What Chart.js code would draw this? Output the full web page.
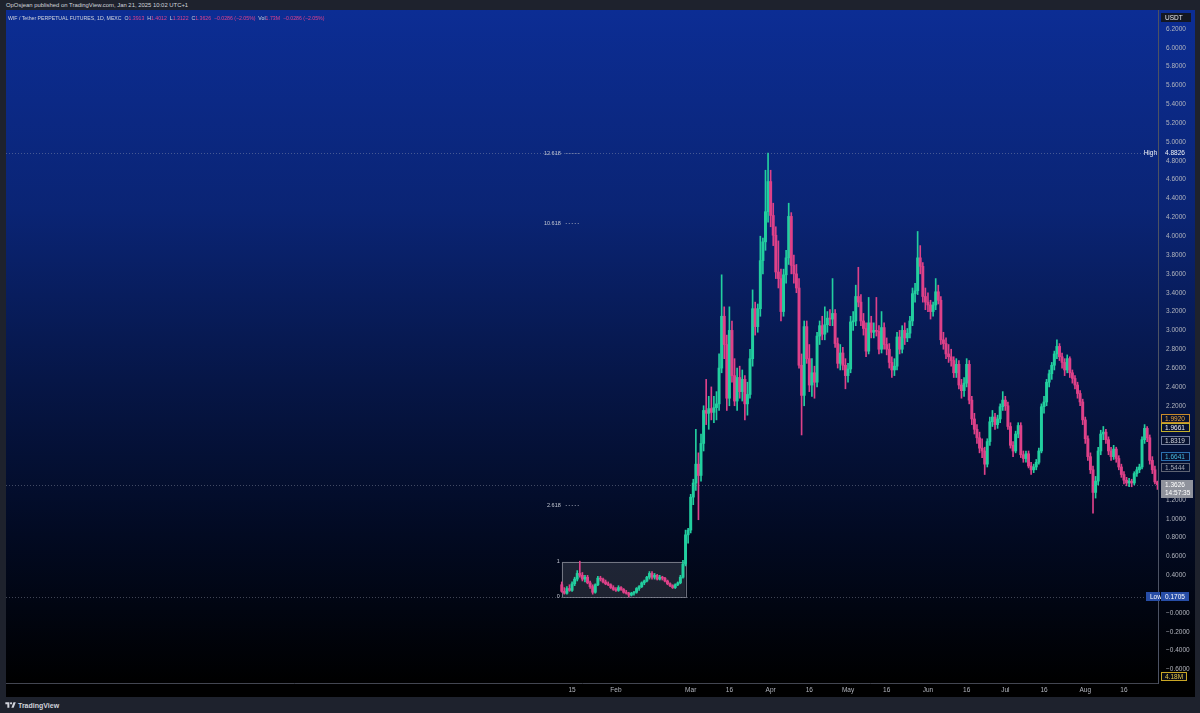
<!DOCTYPE html>
<html lang="en">
<head>
<meta charset="utf-8">
<title>WIF / Tether Perpetual Futures, 1D, MEXC</title>
<script src="https://cdn.jsdelivr.net/npm/chart.js@4.4.1/dist/chart.umd.min.js"></script>
<style>
  html, body { margin: 0; padding: 0; }
  body {
    width: 1200px; height: 713px; position: relative; overflow: hidden;
    background: #1e222d; font-family: "Liberation Sans", Arial, sans-serif;
  }
  #byline {
    position: absolute; left: 6px; top: 1px; font-size: 5.9px; line-height: 8px;
    color: #d1d4dc; white-space: nowrap;
  }
  #frame { position: absolute; left: 6px; top: 10px; width: 1189px; height: 687px; }
  #legend {
    position: absolute; left: 8px; top: 14px; font-size: 5.2px; line-height: 8px;
    color: #d1d4dc; white-space: nowrap; z-index: 2;
  }
  #legend .v { color: #e0438c; }
  #footer {
    position: absolute; left: 5px; top: 700px; height: 10px; display: flex;
    align-items: center; gap: 2px; color: #d1d4dc; font-size: 7px; font-weight: bold;
  }
</style>
</head>
<body>
<div id="byline">OpOsjean published on TradingView.com, Jan 21, 2025 10:02 UTC+1</div>
<div id="frame"><canvas id="priceChart"></canvas></div>
<div id="legend">WIF / Tether PERPETUAL FUTURES, 1D, MEXC &nbsp;O<span class="v">1.3913</span> &nbsp;H<span class="v">1.4012</span> &nbsp;L<span class="v">1.3122</span> &nbsp;C<span class="v">1.3626</span> &nbsp;<span class="v">&minus;0.0286 (&minus;2.05%)</span> &nbsp;Vol<span class="v">1.73M</span> &nbsp;<span class="v">&minus;0.0286 (&minus;2.05%)</span></div>
<div id="footer">
  <svg width="11" height="8" viewBox="0 0 36 28"><path d="M14 24H7V11H0V4h14v20zM29 24h-8l7.5-20h8L29 24z" fill="#d1d4dc"/><circle cx="20" cy="8" r="4" fill="#d1d4dc"/></svg>
  <span>TradingView</span>
</div>

<script>
// Daily candles, 2024. firstDay is the day-of-year of the first candle (Jan 11).
const firstDay = 10;

const opens = [
  .30, .23, .21, .26, .24, .31, .36, .42, .40, .36, .38, .32, .28, .22, .30, .37,
  .36, .33, .31, .30, .27, .25, .24, .27, .25, .22, .21, .19, .21, .22, .26, .28,
  .32, .34, .38, .42, .38, .40, .36, .38, .37, .34, .31, .29, .27, .30, .32, .38,
  .52, .83, .88, 1.23, 1.38, 1.58, 1.46, 1.80, 2.15, 2.12, 2.17, 2.13, 2.18, 2.22, 2.60, 3.15,
  2.85, 2.28, 3.00, 2.52, 2.25, 2.50, 2.35, 2.48, 2.22, 2.32, 2.70, 3.23, 3.04, 3.23, 3.74, 3.94,
  4.26, 4.58, 4.22, 4.01, 3.62, 3.55, 3.20, 3.59, 3.77, 4.21, 3.69, 3.60, 3.45, 2.63, 2.31, 3.04,
  2.70, 2.42, 2.55, 2.45, 2.94, 3.05, 2.96, 3.06, 3.13, 3.12, 3.18, 2.86, 2.65, 2.76, 2.63, 2.52,
  2.59, 3.09, 3.10, 3.36, 3.30, 3.10, 3.02, 2.78, 3.08, 2.98, 3.00, 2.99, 2.80, 3.03, 2.85, 2.80,
  2.66, 2.58, 2.62, 2.93, 2.80, 3.00, 2.92, 2.97, 3.10, 3.39, 3.42, 3.77, 3.68, 3.36, 3.30, 3.27,
  3.20, 3.27, 3.41, 3.32, 2.90, 2.86, 2.75, 2.72, 2.68, 2.55, 2.64, 2.42, 2.36, 2.44, 2.64, 2.26,
  2.06, 1.95, 1.86, 1.75, 1.72, 1.58, 1.82, 2.03, 2.08, 2.00, 2.06, 2.19, 2.26, 2.20, 1.98, 1.78,
  1.72, 1.90, 1.99, 1.68, 1.64, 1.69, 1.56, 1.52, 1.55, 1.60, 1.72, 2.19, 2.24, 2.45, 2.54, 2.63,
  2.75, 2.83, 2.72, 2.66, 2.58, 2.70, 2.55, 2.49, 2.42, 2.33, 2.24, 2.05, 1.85, 1.66, 1.52, 1.28,
  1.40, 1.72, 1.90, 1.92, 1.84, 1.72, 1.66, 1.74, 1.64, 1.55, 1.47, 1.41, 1.38, 1.40, 1.38, 1.48,
  1.52, 1.55, 1.84, 1.96, 1.86, 1.62, 1.52, 1.3913
];
const highs = [
  .33, .27, .28, .30, .33, .38, .45, .55, .43, .40, .40, .34, .30, .31, .39, .39,
  .37, .35, .33, .31, .29, .27, .29, .28, .26, .24, .22, .22, .23, .27, .29, .33,
  .35, .39, .44, .44, .42, .41, .40, .39, .38, .35, .32, .30, .31, .33, .40, .56,
  .88, .90, 1.26, 1.42, 1.95, 1.70, 1.90, 2.20, 2.48, 2.30, 2.40, 2.30, 2.35, 2.75, 3.59, 3.25,
  2.95, 3.25, 3.10, 2.70, 2.60, 2.62, 2.58, 2.52, 2.45, 2.80, 3.43, 3.30, 3.28, 4.00, 3.98, 4.70,
  4.8826, 4.70, 4.35, 4.10, 3.95, 3.65, 3.65, 3.85, 4.35, 4.25, 3.80, 3.70, 3.55, 2.75, 3.10, 3.10,
  2.85, 2.70, 2.62, 2.98, 3.10, 3.15, 3.25, 3.20, 3.22, 3.55, 3.22, 2.92, 2.85, 2.82, 2.70, 2.65,
  3.15, 3.20, 3.48, 3.67, 3.38, 3.18, 3.08, 3.35, 3.15, 3.08, 3.35, 3.05, 3.20, 3.08, 2.92, 2.86,
  2.72, 2.70, 2.98, 3.00, 3.05, 3.08, 3.02, 3.15, 3.45, 3.50, 4.05, 3.90, 3.72, 3.45, 3.40, 3.32,
  3.30, 3.55, 3.48, 3.36, 2.98, 2.92, 2.85, 2.80, 2.72, 2.70, 2.68, 2.48, 2.50, 2.70, 2.68, 2.30,
  2.12, 2.00, 1.92, 1.85, 1.76, 1.85, 2.08, 2.15, 2.12, 2.10, 2.22, 2.35, 2.30, 2.24, 2.02, 1.82,
  1.93, 2.02, 2.02, 1.72, 1.72, 1.72, 1.60, 1.58, 1.63, 1.75, 2.22, 2.30, 2.48, 2.58, 2.66, 2.78,
  2.90, 2.86, 2.76, 2.70, 2.74, 2.72, 2.58, 2.52, 2.45, 2.36, 2.27, 2.08, 1.88, 1.70, 1.56, 1.45,
  1.76, 1.94, 1.98, 1.95, 1.87, 1.76, 1.78, 1.76, 1.67, 1.58, 1.50, 1.44, 1.43, 1.42, 1.50, 1.55,
  1.58, 1.87, 2.00, 1.98, 1.89, 1.66, 1.56, 1.4012
];
const lows = [
  .22, .20, .20, .23, .23, .29, .34, .38, .34, .33, .31, .26, .20, .21, .29, .34,
  .32, .30, .29, .26, .24, .23, .23, .24, .21, .20, .1705, .18, .19, .21, .24, .27,
  .30, .33, .36, .36, .36, .35, .35, .35, .33, .30, .28, .26, .26, .29, .31, .37,
  .50, .74, .85, 1.15, 1.30, .99, 1.40, 1.72, 2.00, 1.95, 2.05, 2.02, 2.05, 2.15, 2.55, 2.70,
  2.15, 2.20, 2.45, 2.20, 2.15, 2.28, 2.25, 2.05, 2.10, 2.28, 2.62, 2.95, 2.98, 3.15, 3.60, 3.85,
  4.15, 4.10, 3.90, 3.55, 3.45, 3.10, 3.15, 3.50, 3.70, 3.60, 3.50, 3.40, 2.60, 1.89, 2.20, 2.65,
  2.35, 2.30, 2.28, 2.40, 2.85, 2.90, 2.90, 2.98, 3.05, 3.05, 2.82, 2.60, 2.58, 2.58, 2.38, 2.45,
  2.55, 3.00, 3.05, 3.25, 3.05, 2.95, 2.72, 2.75, 2.92, 2.92, 2.94, 2.75, 2.76, 2.80, 2.74, 2.60,
  2.50, 2.52, 2.58, 2.75, 2.76, 2.85, 2.88, 2.92, 3.05, 3.30, 3.38, 3.60, 3.30, 3.22, 3.20, 3.12,
  3.15, 3.22, 3.28, 2.85, 2.80, 2.70, 2.66, 2.62, 2.50, 2.50, 2.38, 2.28, 2.30, 2.40, 2.22, 2.00,
  1.90, 1.80, 1.70, 1.65, 1.47, 1.55, 1.78, 1.98, 1.95, 1.96, 2.02, 2.15, 2.15, 1.95, 1.75, 1.66,
  1.70, 1.86, 1.65, 1.60, 1.60, 1.54, 1.47, 1.49, 1.52, 1.58, 1.70, 2.12, 2.20, 2.40, 2.48, 2.58,
  2.70, 2.68, 2.60, 2.52, 2.55, 2.50, 2.44, 2.38, 2.28, 2.20, 2.00, 1.80, 1.62, 1.48, 1.06, 1.22,
  1.36, 1.68, 1.84, 1.80, 1.68, 1.62, 1.63, 1.60, 1.52, 1.44, 1.37, 1.35, 1.34, 1.34, 1.36, 1.45,
  1.49, 1.53, 1.80, 1.82, 1.58, 1.48, 1.37, 1.3122
];
const closes = [
  .23, .21, .26, .24, .31, .36, .42, .40, .36, .38, .32, .28, .22, .30, .37, .36,
  .33, .31, .30, .27, .25, .24, .27, .25, .22, .21, .19, .21, .22, .26, .28, .32,
  .34, .38, .42, .38, .40, .36, .38, .37, .34, .31, .29, .27, .30, .32, .38, .52,
  .83, .88, 1.23, 1.38, 1.58, 1.46, 1.80, 2.15, 2.12, 2.17, 2.13, 2.18, 2.22, 2.60, 3.15, 2.85,
  2.28, 3.00, 2.52, 2.25, 2.50, 2.35, 2.48, 2.22, 2.32, 2.70, 3.23, 3.04, 3.23, 3.74, 3.94, 4.26,
  4.58, 4.22, 4.01, 3.62, 3.55, 3.20, 3.59, 3.77, 4.21, 3.69, 3.60, 3.45, 2.63, 2.31, 3.04, 2.70,
  2.42, 2.55, 2.45, 2.94, 3.05, 2.96, 3.06, 3.13, 3.12, 3.18, 2.86, 2.65, 2.76, 2.63, 2.52, 2.59,
  3.09, 3.10, 3.36, 3.30, 3.10, 3.02, 2.78, 3.08, 2.98, 3.00, 2.99, 2.80, 3.03, 2.85, 2.80, 2.66,
  2.58, 2.62, 2.93, 2.80, 3.00, 2.92, 2.97, 3.10, 3.39, 3.42, 3.77, 3.68, 3.36, 3.30, 3.27, 3.20,
  3.27, 3.41, 3.32, 2.90, 2.86, 2.75, 2.72, 2.68, 2.55, 2.64, 2.42, 2.36, 2.44, 2.64, 2.26, 2.06,
  1.95, 1.86, 1.75, 1.72, 1.58, 1.82, 2.03, 2.08, 2.00, 2.06, 2.19, 2.26, 2.20, 1.98, 1.78, 1.72,
  1.90, 1.99, 1.68, 1.64, 1.69, 1.56, 1.52, 1.55, 1.60, 1.72, 2.19, 2.24, 2.45, 2.54, 2.63, 2.75,
  2.83, 2.72, 2.66, 2.58, 2.70, 2.55, 2.49, 2.42, 2.33, 2.24, 2.05, 1.85, 1.66, 1.52, 1.28, 1.40,
  1.72, 1.90, 1.92, 1.84, 1.72, 1.66, 1.74, 1.64, 1.55, 1.47, 1.41, 1.38, 1.40, 1.38, 1.48, 1.52,
  1.55, 1.84, 1.96, 1.86, 1.62, 1.52, 1.3913, 1.3626
];

// Time axis: day-of-year positions and their labels
const tickDays = [14, 31, 60, 75, 91, 106, 121, 136, 152, 167, 182, 197, 213, 228];
const tickLabels = ['15', 'Feb', 'Mar', '16', 'Apr', '16', 'May', '16', 'Jun', '16', 'Jul', '16', 'Aug', '16'];

// Fibonacci extension drawn on the chart
const fibLow = 0.1705;
const fibHigh = 4.8826;
const fibStartDay = 10;
const fibEndDay = 58;
const fibExtLevels = [2.618, 10.618, 12.618];

// Indicator values shown on the price axis, and the volume tag
const markerValues = [1.9920, 1.9661, 1.8319, 1.6641, 1.5444];
const volumeTag = '4.18M';
const countdown = '14:57:35';

const FONT = '"Liberation Sans", Arial, sans-serif';
const UP = '#22cf9f';
const DOWN = '#de4189';

const days = closes.map((_, i) => firstDay + i);
const candleColors = closes.map((c, i) => (c >= opens[i] ? UP : DOWN));
const lastPrice = closes[closes.length - 1];
const fibUnit = (fibHigh - fibLow) / fibExtLevels[fibExtLevels.length - 1];

const fmtPrice = v => (v < 0 || Math.abs(v) < 1e-9 ? '\u2212' : '') + Math.abs(v).toFixed(4);

/**
 * Gradient backdrop behind plot + price axis, black time axis strip
 */
const backdrop = {
  id: 'backdrop',
  beforeDraw(chart) {
    const { ctx, width, height, chartArea } = chart;
    const g = ctx.createLinearGradient(0, chartArea.top, 0, chartArea.bottom);
    g.addColorStop(0, '#0c2d94');
    g.addColorStop(0.3, '#0a2474');
    g.addColorStop(0.55, '#061647');
    g.addColorStop(0.78, '#020a22');
    g.addColorStop(1, '#000000');
    ctx.save();
    ctx.fillStyle = g;
    ctx.fillRect(0, 0, width, chartArea.bottom);
    ctx.fillStyle = '#000000';
    ctx.fillRect(0, chartArea.bottom, width, height - chartArea.bottom);
    ctx.restore();
  }
};

/**
 * Fib box, level lines and the price axis tags
 */
const overlay = {
  id: 'overlay',
  beforeDatasetsDraw(chart) {
    const { ctx, scales: { x, y } } = chart;
    const x0 = x.getPixelForValue(fibStartDay);
    const x1 = x.getPixelForValue(fibEndDay);
    const yTop = y.getPixelForValue(fibLow + fibUnit);
    const yBot = y.getPixelForValue(fibLow);
    ctx.save();
    ctx.fillStyle = 'rgba(120, 123, 134, 0.25)';
    ctx.fillRect(x0, yTop, x1 - x0, yBot - yTop);
    ctx.strokeStyle = 'rgba(150, 153, 164, 0.7)';
    ctx.lineWidth = 1;
    ctx.strokeRect(Math.round(x0) + 0.5, Math.round(yTop) + 0.5, Math.round(x1 - x0), Math.round(yBot - yTop));
    ctx.restore();
  },
  afterDatasetsDraw(chart) {
    const { ctx, chartArea, scales: { x, y } } = chart;
    const x0 = x.getPixelForValue(fibStartDay);
    ctx.save();

    // full width dotted lines: high, low, last price
    ctx.strokeStyle = 'rgba(160, 166, 182, 0.4)';
    ctx.lineWidth = 1;
    ctx.setLineDash([1, 2]);
    [fibHigh, fibLow, lastPrice].forEach(v => {
      const py = Math.round(y.getPixelForValue(v)) + 0.5;
      ctx.beginPath();
      ctx.moveTo(chartArea.left, py);
      ctx.lineTo(chartArea.right, py);
      ctx.stroke();
    });

    // extension levels: label + short dotted stub
    ctx.font = `5.5px ${FONT}`;
    ctx.textBaseline = 'middle';
    ctx.textAlign = 'right';
    fibExtLevels.forEach(level => {
      const py = Math.round(y.getPixelForValue(fibLow + fibUnit * level)) + 0.5;
      ctx.fillStyle = '#c3c7d2';
      ctx.fillText(level.toFixed(3), x0 - 1, py);
      ctx.strokeStyle = 'rgba(170, 175, 190, 0.8)';
      ctx.beginPath();
      ctx.moveTo(x0 + 4, py);
      ctx.lineTo(x0 + 18, py);
      ctx.stroke();
    });

    // 0 and 1 of the box
    ctx.fillStyle = '#c3c7d2';
    ctx.fillText('1', x0 - 2, y.getPixelForValue(fibLow + fibUnit));
    ctx.fillText('0', x0 - 2, y.getPixelForValue(fibLow));
    ctx.restore();
  },
  afterDraw(chart) {
    const { ctx, chartArea, scales: { y } } = chart;
    const bx = chartArea.right + 3;
    const bw = 29;
    const bh = 9;
    ctx.save();
    ctx.font = `6.5px ${FONT}`;
    ctx.textBaseline = 'middle';
    ctx.textAlign = 'left';

    const tag = (top, h, w, fill, stroke, color, lines, left = bx) => {
      ctx.fillStyle = fill;
      ctx.fillRect(left, top, w, h);
      if (stroke) {
        ctx.strokeStyle = stroke;
        ctx.lineWidth = 1;
        ctx.strokeRect(left + 0.5, top + 0.5, w - 1, h - 1);
      }
      ctx.fillStyle = color;
      lines.forEach((t, i) => ctx.fillText(t, left + 4, top + 4.8 + i * 8));
    };

    // currency box
    tag(3, 9, 30, '#131722', null, '#e6e8ee', ['USDT']);

    // indicator tags, pushed upward when they overlap
    const styles = [
      { stroke: '#c98a2a', color: '#f2a93b' },
      { stroke: '#c2b12c', color: '#eceef2' },
      { stroke: '#747f9c', color: '#d1d4dc' },
      { stroke: '#2c6fae', color: '#46b8dc' },
      { stroke: '#5e6373', color: '#a3a7b3' }
    ];
    const order = markerValues.map((v, i) => i).sort((a, b) => markerValues[a] - markerValues[b]);
    let limit = Infinity;
    order.forEach(i => {
      let cy = y.getPixelForValue(markerValues[i]);
      if (cy + bh / 2 > limit) cy = limit - bh / 2;
      limit = cy - bh / 2;
      tag(Math.round(cy - bh / 2), bh, bw, '#07112f', styles[i].stroke, styles[i].color, [fmtPrice(markerValues[i])]);
    });

    // last price + countdown
    const py = y.getPixelForValue(lastPrice);
    tag(Math.round(py - 5), 18, 32, '#8f929c', null, '#ffffff', [fmtPrice(lastPrice), countdown]);

    // high
    const hy = y.getPixelForValue(fibHigh);
    ctx.fillStyle = '#f0f2f6';
    ctx.textAlign = 'right';
    ctx.fillText('High', chartArea.right - 1, hy);
    ctx.textAlign = 'left';
    ctx.fillText(fmtPrice(fibHigh), bx + 4, hy);

    // low
    const ly = Math.round(y.getPixelForValue(fibLow) - bh / 2);
    tag(ly, bh, 14, '#274da6', null, '#ffffff', ['Low'], chartArea.right - 12);
    tag(ly, bh, 28, '#274da6', null, '#ffffff', [fmtPrice(fibLow)]);

    // volume
    tag(chartArea.bottom - 11, bh, 26, '#0b0d14', '#c9a625', '#e9c84a', [volumeTag]);
    ctx.restore();
  }
};

// tick-label overflow padding would shrink the plot; TradingView does not do that
const noPadding = scale => {
  scale.paddingTop = 0;
  scale.paddingBottom = 0;
  scale.paddingLeft = 0;
  scale.paddingRight = 0;
};

Chart.defaults.font.family = FONT;

new Chart(document.getElementById('priceChart'), {
  type: 'bar',
  data: {
    datasets: [
      {
        label: 'wicks',
        data: days.map((d, i) => ({ x: d, y: [lows[i], highs[i]] })),
        backgroundColor: candleColors,
        barThickness: 1,
        grouped: false,
        order: 2
      },
      {
        label: 'bodies',
        data: days.map((d, i) => ({ x: d, y: [opens[i], closes[i]] })),
        backgroundColor: candleColors,
        barThickness: 2.3,
        minBarLength: 1,
        grouped: false,
        order: 1
      }
    ]
  },
  options: {
    responsive: true,
    maintainAspectRatio: false,
    devicePixelRatio: 1,
    animation: false,
    layout: { padding: 0 },
    plugins: {
      legend: { display: false },
      tooltip: { enabled: false }
    },
    scales: {
      x: {
        type: 'linear',
        min: -205.5,
        max: 241.2,
        offset: false,
        grid: { display: false, drawTicks: false },
        border: { display: true, color: '#434651' },
        afterBuildTicks: scale => {
          scale.ticks = tickDays.map(v => ({ value: v }));
        },
        afterFit: scale => {
          scale.height = 14;
          noPadding(scale);
        },
        ticks: {
          autoSkip: false,
          maxRotation: 0,
          padding: 3,
          color: '#b2b5be',
          font: { size: 6.5 },
          callback: v => {
            const i = tickDays.indexOf(v);
            return i < 0 ? '' : tickLabels[i];
          }
        }
      },
      y: {
        type: 'linear',
        position: 'right',
        min: -0.743,
        max: 6.401,
        grid: { display: false, drawTicks: false },
        border: { display: true, color: '#4c5263' },
        afterBuildTicks: scale => {
          scale.ticks = scale.ticks.filter(t =>
            Math.abs(t.value * 5 - Math.round(t.value * 5)) < 1e-6 && t.value < 6.3);
        },
        afterFit: scale => {
          scale.width = 37;
          noPadding(scale);
        },
        ticks: {
          stepSize: 0.2,
          autoSkip: false,
          padding: 8,
          color: '#b2b5be',
          font: { size: 6.5 },
          callback: v => {
            const hidden = [...markerValues, lastPrice, fibLow].some(m => Math.abs(m - v) < 0.06);
            return hidden ? '' : fmtPrice(v);
          }
        }
      }
    }
  },
  plugins: [backdrop, overlay]
});
</script>
</body>
</html>
